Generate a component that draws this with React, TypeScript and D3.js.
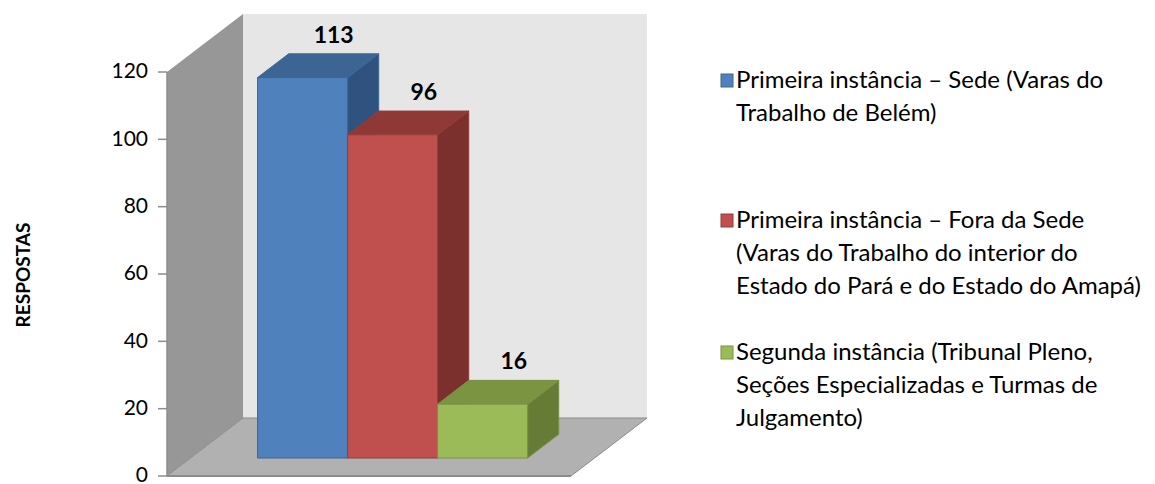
import React from "react";
import { scaleLinear, scaleBand, range } from "d3";

// dados
const series = [
  "Primeira instância – Sede (Varas do Trabalho de Belém)",
  "Primeira instância – Fora da Sede (Varas do Trabalho do interior do Estado do Pará e do Estado do Amapá)",
  "Segunda instância (Tribunal Pleno, Seções Especializadas e Turmas de Julgamento)",
];
const values = [113, 96, 16];
const yTicks = [0, 20, 40, 60, 80, 100, 120];
const legendLines = [
  ["Primeira instância – Sede (Varas do", "Trabalho de Belém)"],
  ["Primeira instância – Fora da Sede", "(Varas do Trabalho do interior do", "Estado do Pará e do Estado do Amapá)"],
  ["Segunda instância (Tribunal Pleno,", "Seções Especializadas e Turmas de", "Julgamento)"],
];
const yTitle = "RESPOSTAS";

const colors = [
  { front: "#4F81BD", top: "#3C6594", side: "#30527F", stroke: "#3B6796" },
  { front: "#C0504D", top: "#8E3936", side: "#7B302E", stroke: "#943D3A" },
  { front: "#9BBB59", top: "#7A9442", side: "#667C36", stroke: "#789343" },
];

function App() {
  const width = 1155;
  const height = 484;
  const font = "Lato, 'Open Sans', sans-serif";

  // projecao obliqua
  const DX = 76;
  const DY = -58;
  const zFront = 0.31;
  const zBack = 0.72;

  const yScale = scaleLinear().domain([0, 120]).range([476, 72]);
  const xScale = scaleBand<number>()
    .domain(range(values.length))
    .range([167, 571])
    .paddingInner(0)
    .paddingOuter(0.744);

  const p = (x: number, z: number, v: number) => [x + z * DX, yScale(v) + z * DY];
  const pts = (arr: number[][]) => arr.map((d) => d.join(",")).join(" ");

  const x0 = xScale.range()[0];
  const x1 = xScale.range()[1];
  const yMax = yScale.domain()[1];

  return (
    <svg width={width} height={height} style={{ position: "absolute", left: 0, top: 0 }}>
      <rect width={width} height={height} fill="#fff" />
      {/* parede do fundo */}
      <polygon points={pts([p(x0, 1, 0), p(x0, 1, yMax), p(x1, 1, yMax), p(x1, 1, 0)])} fill="#E6E6E6" />
      {/* parede lateral */}
      <polygon points={pts([p(x0, 0, 0), p(x0, 0, yMax), p(x0, 1, yMax), p(x0, 1, 0)])} fill="#979797" />
      {/* piso */}
      <polygon
        points={pts([p(x0, 0, 0), p(x1, 0, 0), p(x1, 1, 0), p(x0, 1, 0)])}
        fill="#B1B1B1"
        stroke="#8C8C8C"
        strokeWidth={1}
      />
      <line x1={x0} x2={x0} y1={yScale(0)} y2={yScale(yMax)} stroke="#8C8C8C" strokeWidth={1.5} />
      <line x1={x0} x2={x1} y1={yScale(0)} y2={yScale(0)} stroke="#8C8C8C" strokeWidth={2} />

      {/* eixo y */}
      {yTicks.map((t) => (
        <g key={t}>
          <line x1={x0 - 9} x2={x0} y1={yScale(t)} y2={yScale(t)} stroke="#8C8C8C" strokeWidth={1.5} />
          <text x={x0 - 19} y={yScale(t)} dy="0.3em" textAnchor="end" fontSize={21} fontFamily={font} fill="#000">
            {t}
          </text>
        </g>
      ))}
      <text
        transform={`translate(30, 275) rotate(-90)`}
        textAnchor="middle"
        fontSize={19}
        fontWeight="bold"
        fontFamily={font}
        fill="#000"
      >
        {yTitle}
      </text>

      {/* barras */}
      {values.map((v, i) => {
        const bx = xScale(i) as number;
        const bw = xScale.bandwidth();
        const c = colors[i];
        const front = [p(bx, zFront, 0), p(bx, zFront, v), p(bx + bw, zFront, v), p(bx + bw, zFront, 0)];
        const top = [p(bx, zFront, v), p(bx, zBack, v), p(bx + bw, zBack, v), p(bx + bw, zFront, v)];
        const side = [p(bx + bw, zFront, 0), p(bx + bw, zFront, v), p(bx + bw, zBack, v), p(bx + bw, zBack, 0)];
        const lab = p(bx + bw / 2, zBack, v);
        return (
          <g key={i}>
            <polygon points={pts(side)} fill={c.side} stroke={c.stroke} strokeWidth={1} />
            <polygon points={pts(top)} fill={c.top} stroke={c.stroke} strokeWidth={1} />
            <polygon points={pts(front)} fill={c.front} stroke={c.stroke} strokeWidth={1} />
            <text
              x={lab[0]}
              y={lab[1] - 11}
              textAnchor="middle"
              fontSize={23}
              fontWeight="bold"
              fontFamily={font}
              fill="#000"
            >
              {v}
            </text>
          </g>
        );
      })}

      {/* legenda */}
      {legendLines.map((lines, i) => {
        const starts = [80, 220, 352];
        const y0 = starts[i];
        return (
          <g key={i}>
            <title>{series[i]}</title>
            <rect x={721} y={y0 - 6} width={12} height={13} fill={colors[i].front} stroke={colors[i].stroke} strokeWidth={1} />
            {lines.map((l, j) => (
              <text key={j} x={736} y={y0 + j * 33} dy="0.35em" fontSize={24} fontFamily={font} fill="#000">
                {l}
              </text>
            ))}
          </g>
        );
      })}
    </svg>
  );
}

export default App;
